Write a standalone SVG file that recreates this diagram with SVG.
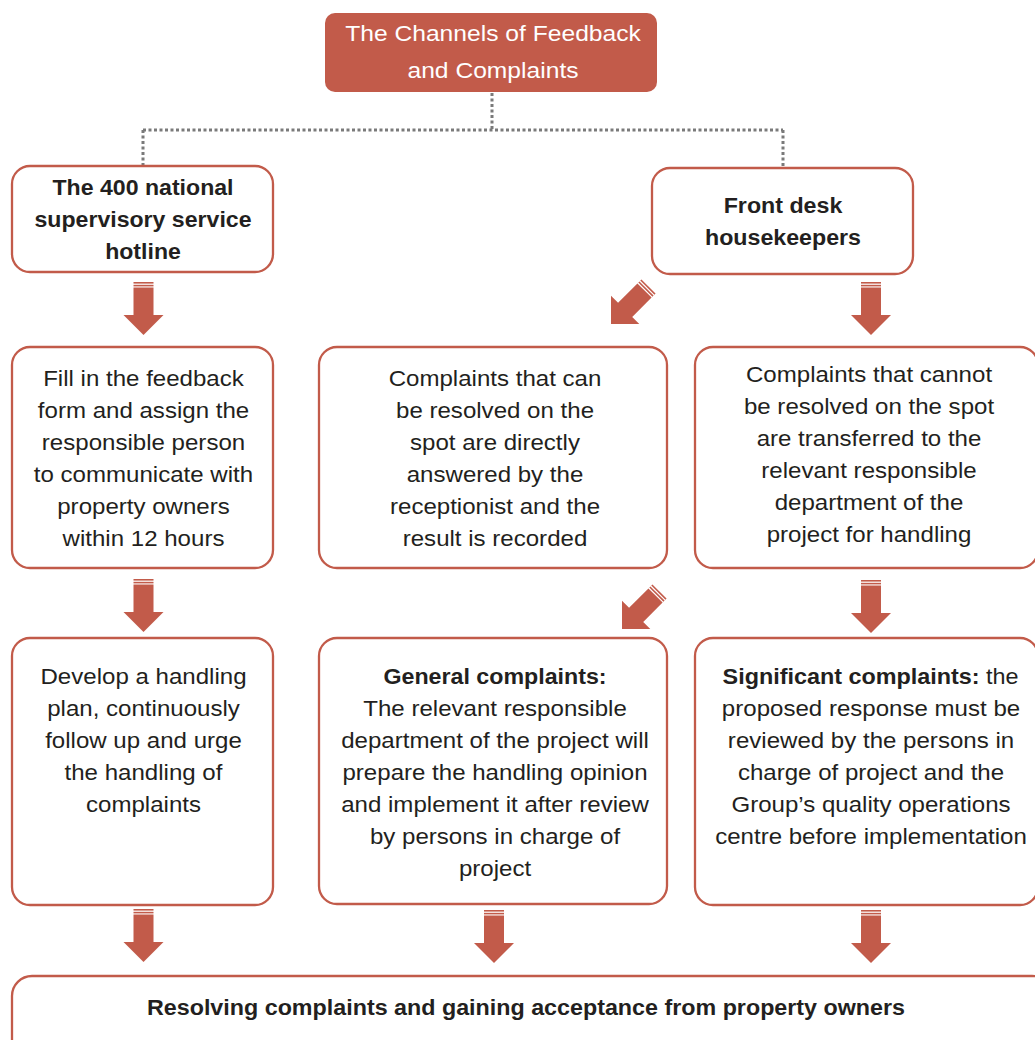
<svg xmlns="http://www.w3.org/2000/svg" width="1035" height="1040" viewBox="0 0 1035 1040">
<style>
.box{fill:#fff;stroke:#C25B4A;stroke-width:2.3}
.t{font-family:"Liberation Sans",Arial,Helvetica,sans-serif;font-size:21.5px;fill:#231F20;text-anchor:middle}
.b{font-weight:bold}
.w{fill:#fff}
.dot{fill:none;stroke:#7a7a7a;stroke-width:3;stroke-dasharray:3 2.5}
</style>
<defs>
<g id="arr" fill="#C25B4A">
<rect x="-10" y="-53" width="20" height="1.6"/>
<rect x="-10" y="-50.2" width="20" height="1.6"/>
<path d="M-10,-47.4 H10 V-20 H20 L0,0 L-20,-20 H-10 Z"/>
</g>
</defs>
<rect width="1035" height="1040" fill="#fff"/>

<g id="connectors">
<path class="dot" d="M492,93 V130 M143,130 H783 M143,130 V166 M783,130 V168"/>
<use href="#arr" transform="translate(143.5,335)"/>
<use href="#arr" transform="translate(871,335)"/>
<use href="#arr" transform="translate(611,324) rotate(45)"/>
<use href="#arr" transform="translate(143.5,632)"/>
<use href="#arr" transform="translate(871,633)"/>
<use href="#arr" transform="translate(622,629) rotate(45)"/>
<use href="#arr" transform="translate(143.5,962)"/>
<use href="#arr" transform="translate(494,963)"/>
<use href="#arr" transform="translate(871,963)"/>
</g>

<g id="title">
<rect x="325" y="13" width="332" height="79" rx="10" fill="#C25B4A"/>
<g transform="translate(493 0) scale(1.12 1)">
<text class="t w" x="0" y="41" style="font-size:22px">The Channels of Feedback</text>
<text class="t w" x="0" y="78" style="font-size:22px">and Complaints</text>
</g>
</g>

<g id="hotline">
<rect class="box" x="12" y="166" width="261" height="106" rx="18"/>
<g transform="translate(143 0) scale(1.075 1)">
<text class="t b" x="0" y="195">The 400 national</text>
<text class="t b" x="0" y="227">supervisory service</text>
<text class="t b" x="0" y="259">hotline</text>
</g>
</g>

<g id="frontdesk">
<rect class="box" x="652" y="168" width="261" height="106" rx="18"/>
<g transform="translate(783 0) scale(1.08 1)">
<text class="t b" x="0" y="213">Front desk</text>
<text class="t b" x="0" y="245">housekeepers</text>
</g>
</g>

<g id="fillform">
<rect class="box" x="12" y="347" width="261" height="221" rx="18"/>
<g transform="translate(143.5 0) scale(1.12 1)">
<text class="t" x="0" y="386">Fill in the feedback</text>
<text class="t" x="0" y="418">form and assign the</text>
<text class="t" x="0" y="450">responsible person</text>
<text class="t" x="0" y="482">to communicate with</text>
<text class="t" x="0" y="514">property owners</text>
<text class="t" x="0" y="546">within 12 hours</text>
</g>
</g>

<g id="resolvable">
<rect class="box" x="319" y="347" width="348" height="221" rx="18"/>
<g transform="translate(495 0) scale(1.12 1)">
<text class="t" x="0" y="386">Complaints that can</text>
<text class="t" x="0" y="418">be resolved on the</text>
<text class="t" x="0" y="450">spot are directly</text>
<text class="t" x="0" y="482">answered by the</text>
<text class="t" x="0" y="514">receptionist and the</text>
<text class="t" x="0" y="546">result is recorded</text>
</g>
</g>

<g id="unresolvable">
<rect class="box" x="695" y="347" width="343" height="221" rx="18"/>
<g transform="translate(869 0) scale(1.12 1)">
<text class="t" x="0" y="382">Complaints that cannot</text>
<text class="t" x="0" y="414">be resolved on the spot</text>
<text class="t" x="0" y="446">are transferred to the</text>
<text class="t" x="0" y="478">relevant responsible</text>
<text class="t" x="0" y="510">department of the</text>
<text class="t" x="0" y="542">project for handling</text>
</g>
</g>

<g id="handlingplan">
<rect class="box" x="12" y="638" width="261" height="267" rx="18"/>
<g transform="translate(143.5 0) scale(1.12 1)">
<text class="t" x="0" y="684">Develop a handling</text>
<text class="t" x="0" y="716">plan, continuously</text>
<text class="t" x="0" y="748">follow up and urge</text>
<text class="t" x="0" y="780">the handling of</text>
<text class="t" x="0" y="812">complaints</text>
</g>
</g>

<g id="general">
<rect class="box" x="319" y="638" width="348" height="266" rx="18"/>
<g transform="translate(495 0) scale(1.08 1)">
<text class="t b" x="0" y="684">General complaints:</text>
</g>
<g transform="translate(495 0) scale(1.12 1)">
<text class="t" x="0" y="716">The relevant responsible</text>
<text class="t" x="0" y="748">department of the project will</text>
<text class="t" x="0" y="780">prepare the handling opinion</text>
<text class="t" x="0" y="812">and implement it after review</text>
<text class="t" x="0" y="844">by persons in charge of</text>
<text class="t" x="0" y="876">project</text>
</g>
</g>

<g id="significant">
<rect class="box" x="695" y="638" width="343" height="267" rx="18"/>
<g transform="translate(870.5 0) scale(1.087 1)">
<text class="t" x="0" y="684"><tspan class="b">Significant complaints:</tspan> the</text>
</g>
<g transform="translate(871 0) scale(1.12 1)">
<text class="t" x="0" y="716">proposed response must be</text>
<text class="t" x="0" y="748">reviewed by the persons in</text>
<text class="t" x="0" y="780">charge of project and the</text>
<text class="t" x="0" y="812">Group’s quality operations</text>
<text class="t" x="0" y="844">centre before implementation</text>
</g>
</g>

<g id="resolving">
<rect class="box" x="12" y="976" width="1040" height="90" rx="20"/>
<g transform="translate(526 0) scale(1.083 1)">
<text class="t b" x="0" y="1015">Resolving complaints and gaining acceptance from property owners</text>
</g>
</g>
</svg>
